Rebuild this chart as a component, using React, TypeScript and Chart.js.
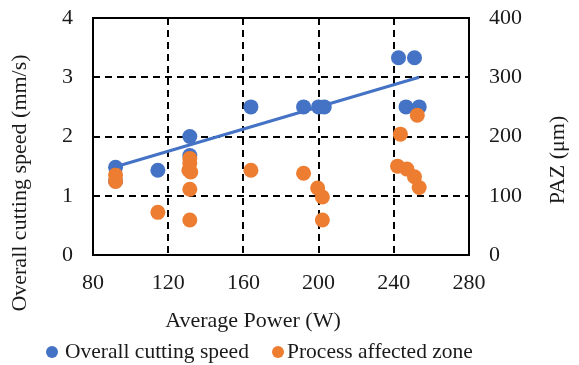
import React, { useEffect, useRef } from "react";
import { Chart, registerables } from "chart.js";

Chart.register(...registerables);

// Overall cutting speed (mm/s) vs average power (W)
const speedPower = [92, 92, 114.5, 131.5, 131.5, 164, 192, 200, 203, 242.5, 251, 246.5, 253.5];
const speedValues = [1.48, 1.25, 1.43, 2.0, 1.68, 2.5, 2.5, 2.5, 2.5, 3.33, 3.33, 2.5, 2.5];

// Process affected zone (µm) vs average power (W)
const pazPower = [92, 92, 114.5, 131.5, 131.5, 131, 132, 131.5, 131.5, 164, 192, 199.5, 202, 202, 243.5, 252.5, 242, 247, 251, 253.5];
const pazValues = [135, 124, 72, 163, 155, 143, 140, 111, 59, 143, 138, 113, 98, 59, 204, 236, 150, 145, 132, 114];

// Linear trendline of cutting speed (endpoints)
const trendPower = [92, 253.5];
const trendValues = [1.49, 3.0];

const xTicks = [80, 120, 160, 200, 240, 280];
const speedTicks = [0, 1, 2, 3, 4];
const pazTicks = [0, 100, 200, 300, 400];

const FONT = "'Liberation Serif', 'Times New Roman', serif";
const BLUE = "#4472C4";
const ORANGE = "#ED7D31";
const TEXT = "#1a1a1a";

const seriesNames = ["Overall cutting speed", "Process affected zone"];
const xTitle = "Average Power (W)";
const yTitle = "Overall cutting speed (mm/s)";
const y1Title = "PAZ (μm)";

export default function App() {
  const ref = useRef<HTMLCanvasElement | null>(null);

  useEffect(() => {
    document.body.style.margin = "0";
    const canvas = ref.current;
    if (!canvas) return;

    const decor = {
      id: "decor",
      beforeDatasetsDraw(chart: any) {
        const { ctx, chartArea } = chart;
        ctx.save();
        ctx.strokeStyle = "#000";
        ctx.lineWidth = 2;
        ctx.setLineDash([]);
        ctx.strokeRect(chartArea.left, chartArea.top, chartArea.right - chartArea.left, chartArea.bottom - chartArea.top);
        ctx.restore();
      },
      afterDraw(chart: any) {
        const { ctx } = chart;
        ctx.save();
        ctx.fillStyle = TEXT;
        ctx.font = `22px ${FONT}`;
        ctx.textAlign = "center";
        ctx.textBaseline = "middle";
        // left title
        ctx.save();
        ctx.translate(20, 183);
        ctx.rotate(-Math.PI / 2);
        ctx.fillText(yTitle, 0, 0);
        ctx.restore();
        // right title
        ctx.save();
        ctx.translate(558, 160);
        ctx.rotate(-Math.PI / 2);
        ctx.fillText(y1Title, 0, 0);
        ctx.restore();
        // x title
        ctx.textBaseline = "alphabetic";
        ctx.fillText(xTitle, 253, 327);
        // legend
        ctx.font = `21.5px ${FONT}`;
        ctx.textAlign = "left";
        const items = [
          { color: BLUE, cx: 52, tx: 65, label: seriesNames[0] },
          { color: ORANGE, cx: 278, tx: 287, label: seriesNames[1] },
        ];
        for (const it of items) {
          ctx.beginPath();
          ctx.fillStyle = it.color;
          ctx.arc(it.cx, 352, 6, 0, Math.PI * 2);
          ctx.fill();
          ctx.fillStyle = TEXT;
          ctx.fillText(it.label, it.tx, 358);
        }
        ctx.restore();
      },
    };

    const chart = new Chart(canvas, {
      type: "scatter",
      data: {
        datasets: [
          {
            label: seriesNames[0],
            data: speedPower.map((x, i) => ({ x, y: speedValues[i] })),
            backgroundColor: BLUE,
            borderColor: BLUE,
            pointRadius: 7.5,
            pointBorderWidth: 0,
            yAxisID: "y",
            order: 2,
          },
          {
            label: seriesNames[1],
            data: pazPower.map((x, i) => ({ x, y: pazValues[i] })),
            backgroundColor: ORANGE,
            borderColor: ORANGE,
            pointRadius: 7.5,
            pointBorderWidth: 0,
            yAxisID: "y1",
            order: 1,
          },
          {
            type: "line",
            label: "trend",
            data: trendPower.map((x, i) => ({ x, y: trendValues[i] })),
            borderColor: BLUE,
            borderWidth: 3,
            pointRadius: 0,
            showLine: true,
            fill: false,
            yAxisID: "y",
            order: 0,
          } as any,
        ],
      },
      options: {
        animation: false,
        responsive: false,
        events: [],
        layout: { padding: { top: 18, left: 0, right: 0, bottom: 0 } },
        plugins: { legend: { display: false }, tooltip: { enabled: false } },
        scales: {
          x: {
            type: "linear",
            min: 80,
            max: 280,
            afterBuildTicks: (s: any) => { s.ticks = xTicks.map((v) => ({ value: v })); },
            ticks: { font: { family: FONT, size: 22 }, color: TEXT, padding: 15, maxRotation: 0 },
            grid: { color: "#000", lineWidth: 2, drawTicks: false },
            border: { display: false, dash: [7, 5] },
            afterFit: (s: any) => { s.height = 110; s.paddingLeft = 0; s.paddingRight = 0; },
          },
          y: {
            type: "linear",
            position: "left",
            min: 0,
            max: 4,
            afterBuildTicks: (s: any) => { s.ticks = speedTicks.map((v) => ({ value: v })); },
            ticks: { font: { family: FONT, size: 22 }, color: TEXT, padding: 20 },
            grid: { color: "#000", lineWidth: 2, drawTicks: false },
            border: { display: false, dash: [7, 5] },
            afterFit: (s: any) => { s.width = 93; s.paddingTop = 0; s.paddingBottom = 0; },
          },
          y1: {
            type: "linear",
            position: "right",
            min: 0,
            max: 400,
            afterBuildTicks: (s: any) => { s.ticks = pazTicks.map((v) => ({ value: v })); },
            ticks: { font: { family: FONT, size: 22 }, color: TEXT, padding: 20 },
            grid: { display: false, drawTicks: false },
            border: { display: false },
            afterFit: (s: any) => { s.width = 110; s.paddingTop = 0; s.paddingBottom = 0; },
          },
        },
      },
      plugins: [decor],
    });
    return () => chart.destroy();
  }, []);

  return (
    <div style={{ width: 579, height: 365, background: "#fff" }}>
      <canvas ref={ref} width={579} height={365} style={{ display: "block" }} />
    </div>
  );
}
